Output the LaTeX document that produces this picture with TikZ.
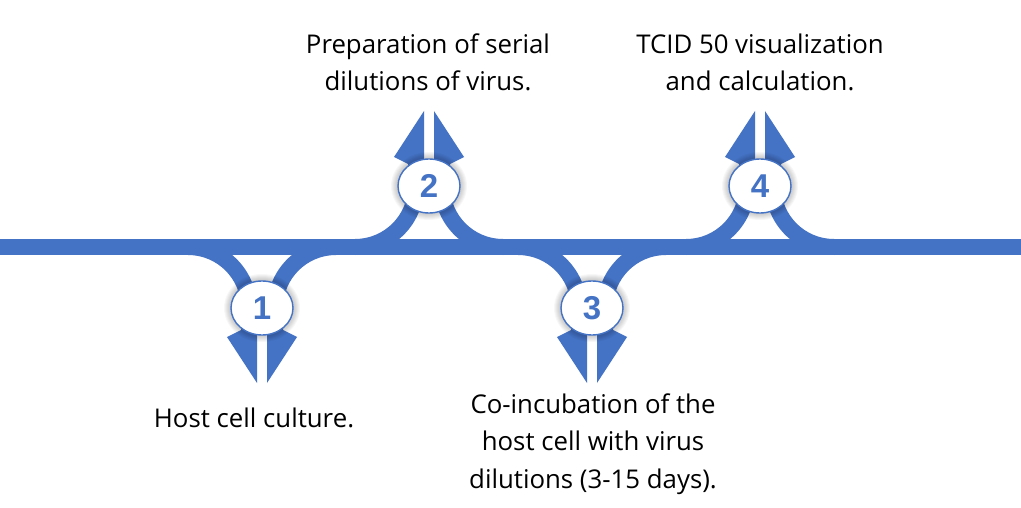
\documentclass[tikz,border=0pt]{standalone}
\usepackage{fontspec}
\setmainfont{Open Sans}
\newfontfamily\numfont{Liberation Sans}
\definecolor{tblue}{HTML}{4472C4}
\tikzset{
  lbl/.style={align=center, font=\fontsize{25.8}{37.5}\selectfont, inner sep=0pt, text=black},
  numc/.style={circle, text=tblue, minimum size=0pt, inner sep=0pt,
    font=\numfont\bfseries\fontsize{33}{33}\selectfont},
  branch/.style={fill=tblue}
}
\newcommand\splitarrow[3]{%
  \begin{scope}[shift={(#1,-247)}, yscale=#2]
    \fill[branch] (-74,-8) arc[start angle=90,end angle=0,radius=53] -- (-21,-83) -- (-35,-90) -- (-5,-136) -- (-5,-61) arc[start angle=0,end angle=90,radius=69] -- cycle;
    \begin{scope}[xscale=-1]
      \fill[branch] (-74,-8) arc[start angle=90,end angle=0,radius=53] -- (-21,-83) -- (-35,-90) -- (-5,-136) -- (-5,-61) arc[start angle=0,end angle=90,radius=69] -- cycle;
    \end{scope}
    \foreach \i in {1,...,7} {
      \fill[black, opacity=0.03] (0,-61) ellipse[x radius=31+\i, y radius=27+\i];
    }
    \fill[white, draw=tblue, line width=1.4pt] (0,-61) ellipse[x radius=31, y radius=27];
  \end{scope}
  \node[numc] (n#3) at (#1,{-247-61*#2}) {#3};
}
\begin{document}
\begin{tikzpicture}[x=1pt,y=1pt]
\useasboundingbox[fill=white] (0,0) rectangle (1021,-508);
\fill[tblue] (0,-239) coordinate (barL) rectangle (1021,-255) coordinate (barR);
\splitarrow{262}{1}{1}
\splitarrow{429}{-1}{2}
\splitarrow{592}{1}{3}
\splitarrow{760}{-1}{4}
\node[lbl, anchor=base] (t1) at (254,-427) {Host cell culture.};
\node[lbl, anchor=base] (t2) at (428,-91) {Preparation of serial\\dilutions of virus.};
\node[lbl, anchor=base] (t3) at (593,-488) {Co-incubation of the\\host cell with virus\\dilutions (3-15 days).};
\node[lbl, anchor=base] (t4) at (760,-91) {TCID 50 visualization\\and calculation.};
\end{tikzpicture}
\end{document}
